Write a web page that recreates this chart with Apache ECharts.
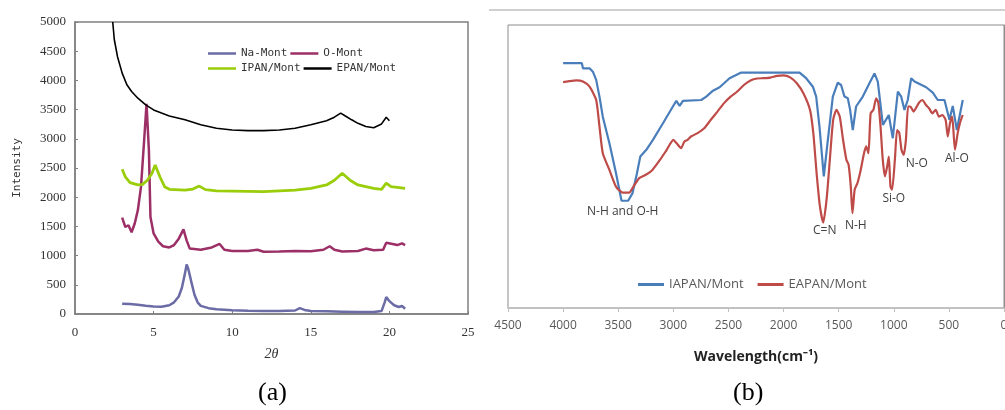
<!DOCTYPE html>
<html>
<head>
<meta charset="utf-8">
<script src="https://cdn.jsdelivr.net/npm/echarts@6/dist/echarts.min.js"></script>
<style>
  html, body { margin: 0; padding: 0; background: #fff; }
  #main { width: 1005px; height: 410px; }
</style>
</head>
<body>
<div id="main"></div>
<script>
// (a) XRD patterns, 2θ vs intensity
const naTheta = [3.0, 3.5, 4.0, 4.5, 5.0, 5.5, 6.0, 6.3, 6.6, 6.8, 7.0, 7.1, 7.2, 7.4, 7.6, 7.8, 8.0, 8.5, 9, 10, 11, 12, 13, 14, 14.3, 14.6, 15, 16, 17, 18, 19, 19.5, 19.7, 19.8, 20.0, 20.3, 20.6, 20.8, 21.0];
const naInt = [175, 170, 160, 140, 130, 125, 150, 200, 300, 450, 700, 850, 780, 550, 330, 200, 140, 100, 80, 65, 55, 50, 50, 60, 100, 70, 50, 45, 40, 35, 35, 50, 200, 290, 220, 150, 120, 140, 90];

const oTheta = [3.0, 3.2, 3.4, 3.6, 3.8, 4.0, 4.2, 4.4, 4.55, 4.7, 4.8, 5.0, 5.3, 5.6, 6.0, 6.3, 6.6, 6.9, 7.1, 7.3, 8.0, 8.7, 9.2, 9.5, 10, 11, 11.6, 12, 13, 14, 15, 15.8, 16.2, 16.5, 17, 18, 18.5, 19, 19.6, 19.8, 20.2, 20.5, 20.8, 21.0];
const oInt = [1650, 1490, 1520, 1400, 1550, 1780, 2180, 2980, 3600, 2810, 1660, 1380, 1240, 1160, 1140, 1180, 1290, 1450, 1260, 1120, 1100, 1140, 1200, 1100, 1080, 1080, 1100, 1065, 1070, 1080, 1075, 1100, 1160, 1100, 1070, 1080, 1120, 1090, 1100, 1220, 1200, 1180, 1210, 1180];

const ipTheta = [3.0, 3.2, 3.5, 4.0, 4.3, 4.6, 4.9, 5.1, 5.2, 5.4, 5.7, 6.0, 7, 7.5, 7.9, 8.3, 9, 10, 12, 14, 15, 16, 16.5, 17.0, 17.5, 18, 18.5, 19, 19.5, 19.8, 20.1, 20.5, 21];
const ipInt = [2480, 2350, 2250, 2210, 2220, 2290, 2410, 2550, 2580, 2350, 2180, 2135, 2120, 2140, 2190, 2130, 2110, 2105, 2095, 2120, 2150, 2210, 2290, 2410, 2290, 2210, 2180, 2150, 2135, 2240, 2180, 2170, 2150];

const epTheta = [2.4, 2.5, 2.7, 3.0, 3.3, 3.6, 4.0, 4.5, 5, 5.5, 6, 7, 8, 9, 10, 11, 12, 13, 14, 15, 16, 16.5, 16.9, 17.2, 17.6, 18, 18.5, 19, 19.5, 19.8, 20.0];
const epInt = [5000, 4700, 4410, 4125, 3925, 3810, 3695, 3580, 3495, 3440, 3390, 3325, 3240, 3180, 3150, 3140, 3140, 3150, 3180, 3240, 3310, 3370, 3440, 3390, 3325, 3265, 3210, 3190, 3255, 3370, 3310];

// (b) FTIR spectra, wavenumber vs transmittance (arbitrary units)
const iaWave = [4000, 3880, 3830, 3820, 3760, 3730, 3700, 3670, 3640, 3580, 3520, 3470, 3410, 3370, 3330, 3300, 3245, 3185, 3094, 3004, 2973, 2943, 2913, 2747, 2701, 2640, 2580, 2490, 2384, 1855, 1795, 1734, 1704, 1674, 1635, 1598, 1553, 1508, 1478, 1447, 1417, 1396, 1372, 1342, 1281, 1221, 1175, 1145, 1099, 1045, 1009, 963, 933, 903, 873, 842, 812, 706, 646, 601, 540, 495, 465, 428, 374];
const iaT = [86.5, 86.5, 86.5, 84.7, 84.7, 83.5, 80.6, 74.7, 67.6, 58.2, 47.6, 37.9, 37.9, 40.6, 47.6, 53.5, 55.9, 59.4, 65.3, 71.2, 73.2, 71.4, 73.2, 73.5, 74.7, 76.8, 78.0, 81.2, 83.2, 83.2, 81.2, 78.2, 74.7, 64.1, 46.5, 59.4, 74.7, 79.6, 78.8, 74.7, 74.1, 70.0, 62.9, 71.2, 74.7, 79.4, 82.9, 80.0, 64.7, 68.2, 60.0, 76.5, 74.7, 70.0, 73.5, 81.2, 80.0, 78.0, 76.1, 73.5, 73.5, 66.5, 71.4, 62.9, 73.5];

const eaWave = [4000, 3880, 3820, 3760, 3700, 3670, 3640, 3580, 3520, 3460, 3400, 3370, 3310, 3250, 3190, 3120, 3060, 3000, 2970, 2930, 2900, 2870, 2840, 2780, 2720, 2660, 2600, 2540, 2480, 2420, 2360, 2300, 2240, 2180, 2120, 2060, 2000, 1940, 1880, 1820, 1760, 1730, 1700, 1670, 1640, 1610, 1580, 1550, 1520, 1490, 1460, 1430, 1410, 1390, 1375, 1355, 1330, 1300, 1270, 1250, 1230, 1210, 1185, 1160, 1140, 1120, 1100, 1080, 1060, 1045, 1030, 1015, 990, 970, 950, 930, 910, 890, 870, 850, 820, 800, 770, 740, 710, 680, 650, 620, 590, 560, 530, 510, 490, 470, 445, 420, 400, 375];
const eaT = [79.8, 80.4, 80.0, 78.2, 73.5, 64.1, 54.7, 48.8, 42.9, 40.8, 40.8, 42.4, 45.9, 47.1, 48.8, 52.4, 55.9, 59.4, 58.2, 56.5, 58.8, 59.4, 60.6, 61.8, 63.5, 66.5, 69.4, 72.4, 74.7, 76.5, 78.8, 80.4, 81.1, 81.2, 81.4, 82.0, 82.2, 81.5, 79.4, 75.9, 70.0, 61.8, 47.6, 35.9, 30.2, 38.2, 52.4, 66.5, 70.0, 67.6, 59.4, 52.4, 50.6, 42.9, 33.5, 41.8, 44.1, 48.8, 54.7, 57.1, 54.7, 68.8, 70.0, 74.1, 72.4, 64.1, 52.4, 46.5, 50.0, 53.5, 42.9, 41.8, 52.4, 62.9, 61.8, 55.9, 54.1, 59.4, 71.2, 71.2, 69.4, 70.6, 72.6, 73.5, 71.8, 70.6, 68.8, 70.0, 67.6, 68.2, 66.5, 60.6, 65.3, 67.6, 55.9, 61.8, 65.3, 68.2];

// band labels placed at (wavenumber, transmittance)
const bandNames = ['N-H and O-H', 'C=N', 'N-H', 'Si-O', 'N-O', 'Al-O'];
const bandWave = [3459, 1626, 1345, 1000, 791, 428];
const bandT = [33.9, 27.2, 29.0, 38.5, 51.2, 52.7];

const pairs = (xs, ys) => xs.map((x, i) => [x, ys[i]]);

const chart = echarts.init(document.getElementById('main'), null, { renderer: 'canvas' });

const serifLabel = { fontFamily: 'Liberation Serif', fontSize: 13, color: '#333', formatter: v => String(v) };
const monoText = { fontFamily: 'DejaVu Sans Mono', fontSize: 11, color: '#333' };

const option = {
  backgroundColor: '#fff',
  animation: false,
  graphic: [
    { type: 'text', left: 258, top: 380, style: { text: '(a)', font: '26px "Liberation Serif"', fill: '#000' } },
    { type: 'text', left: 733, top: 380, style: { text: '(b)', font: '26px "Liberation Serif"', fill: '#000' } },
    { type: 'line', shape: { x1: 489, y1: 10, x2: 1005, y2: 10 }, style: { stroke: '#d0d0d0', lineWidth: 2 } }
  ],
  grid: [
    { left: 75, top: 22, width: 393, height: 292, show: true, borderColor: '#808080', borderWidth: 1.5, outerBoundsMode: 'none' },
    { left: 508, top: 25, width: 496, height: 283, show: true, borderColor: '#8c8c8c', borderWidth: 1, outerBoundsMode: 'none' }
  ],
  legend: [
    {
      data: ['Na-Mont', 'O-Mont'], left: 203, top: 43, icon: 'rect', itemWidth: 28, itemHeight: 2.5, itemGap: 3,
      textStyle: Object.assign({ width: 76 }, monoText)
    },
    {
      data: ['IPAN/Mont', 'EPAN/Mont'], left: 203, top: 58, icon: 'rect', itemWidth: 28, itemHeight: 2.5, itemGap: 3,
      textStyle: Object.assign({ width: 76 }, monoText)
    },
    {
      data: ['IAPAN/Mont', 'EAPAN/Mont'], left: 633, top: 273, icon: 'rect', itemWidth: 26, itemHeight: 3, itemGap: 14,
      textStyle: { width: 100, fontFamily: 'Open Sans', fontSize: 13, color: '#595959' }
    }
  ],
  xAxis: [
    {
      gridIndex: 0, type: 'value', min: 0, max: 25, interval: 5,
      name: '2θ', nameLocation: 'middle', nameGap: 33,
      nameTextStyle: { fontFamily: 'Liberation Serif', fontStyle: 'italic', fontSize: 14, color: '#333' },
      axisLine: { lineStyle: { color: '#808080', width: 1.5 } },
      axisTick: { show: true, inside: true, length: 3, lineStyle: { color: '#808080' } },
      axisLabel: Object.assign({ margin: 12 }, serifLabel),
      splitLine: { show: false }
    },
    {
      gridIndex: 1, type: 'value', min: 0, max: 4500, interval: 500, inverse: true,
      name: 'Wavelength(cm⁻¹)', nameLocation: 'middle', nameGap: 42,
      nameTextStyle: { fontFamily: 'Open Sans', fontWeight: 'bold', fontSize: 14, color: '#222' },
      axisLine: { lineStyle: { color: '#c0c0c0', width: 1.5 } },
      axisTick: { show: true, length: 4, lineStyle: { color: '#c0c0c0' } },
      axisLabel: { margin: 12, fontFamily: 'Open Sans', fontSize: 12, color: '#595959', formatter: v => String(v) },
      splitLine: { show: false }
    }
  ],
  yAxis: [
    {
      gridIndex: 0, type: 'value', min: 0, max: 5000, interval: 500,
      name: 'Intensity', nameLocation: 'middle', nameGap: 52, nameRotate: 90,
      nameTextStyle: monoText,
      axisLine: { show: true, lineStyle: { color: '#808080', width: 1.5 } },
      axisTick: { show: true, inside: true, length: 3, lineStyle: { color: '#808080' } },
      axisLabel: Object.assign({ margin: 9 }, serifLabel),
      splitLine: { show: false }
    },
    {
      gridIndex: 1, type: 'value', min: 0, max: 100,
      axisLine: { show: true, lineStyle: { color: '#8c8c8c' } },
      axisTick: { show: false }, axisLabel: { show: false }, splitLine: { show: false }
    }
  ],
  series: [
    {
      name: 'Na-Mont', type: 'line', xAxisIndex: 0, yAxisIndex: 0, showSymbol: false, symbol: 'none',
      data: pairs(naTheta, naInt), lineStyle: { color: '#6b6ba6', width: 2.5 }, itemStyle: { color: '#6b6ba6' }
    },
    {
      name: 'O-Mont', type: 'line', xAxisIndex: 0, yAxisIndex: 0, showSymbol: false, symbol: 'none',
      data: pairs(oTheta, oInt), lineStyle: { color: '#9b2f66', width: 2.5 }, itemStyle: { color: '#9b2f66' }
    },
    {
      name: 'IPAN/Mont', type: 'line', xAxisIndex: 0, yAxisIndex: 0, showSymbol: false, symbol: 'none',
      data: pairs(ipTheta, ipInt), lineStyle: { color: '#9acd0a', width: 2.8 }, itemStyle: { color: '#9acd0a' }
    },
    {
      name: 'EPAN/Mont', type: 'line', xAxisIndex: 0, yAxisIndex: 0, showSymbol: false, symbol: 'none',
      data: pairs(epTheta, epInt), lineStyle: { color: '#000', width: 1.6 }, itemStyle: { color: '#000' }
    },
    {
      name: 'IAPAN/Mont', type: 'line', xAxisIndex: 1, yAxisIndex: 1, showSymbol: false, symbol: 'none',
      data: pairs(iaWave, iaT), lineStyle: { color: '#4a7ebb', width: 2.2 }, itemStyle: { color: '#4a7ebb' }
    },
    {
      name: 'EAPAN/Mont', type: 'line', xAxisIndex: 1, yAxisIndex: 1, showSymbol: false, symbol: 'none',
      smooth: 0.2,
      data: pairs(eaWave, eaT), lineStyle: { color: '#be4b48', width: 2.2 }, itemStyle: { color: '#be4b48' },
      markPoint: {
        symbol: 'circle', symbolSize: 0, silent: true,
        label: { show: true, position: 'inside', formatter: '{b}', fontFamily: 'Open Sans', fontSize: 12, color: '#404040' },
        data: bandNames.map((n, i) => ({ name: n, coord: [bandWave[i], bandT[i]] }))
      }
    }
  ]
};

chart.setOption(option);
</script>
</body>
</html>
